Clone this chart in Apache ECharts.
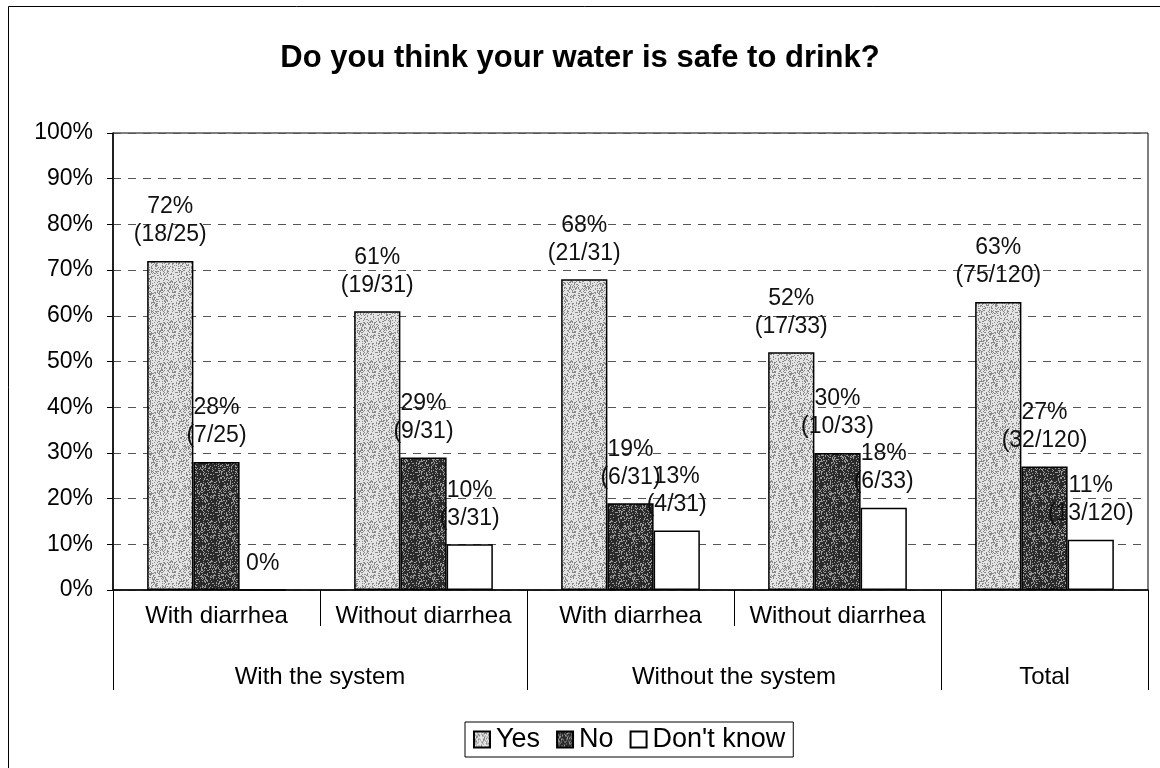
<!DOCTYPE html>
<html>
<head>
<meta charset="utf-8">
<script src="https://cdn.jsdelivr.net/npm/echarts@6/dist/echarts.min.js"></script>
<style>
  html, body { margin: 0; padding: 0; background: #fff; }
  #chart { width: 1160px; height: 768px; }
</style>
</head>
<body>
<div id="chart"></div>
<script>
const categories = ["With diarrhea", "Without diarrhea", "With diarrhea", "Without diarrhea", ""];
const groups = ["With the system", "Without the system", "Total"];
const groupSizes = [2, 2, 1];
const yTicks = [0, 10, 20, 30, 40, 50, 60, 70, 80, 90, 100];

const yesPct = [72, 61, 68, 52, 63];
const noPct = [28, 29, 19, 30, 27];
const dkPct = [0, 10, 13, 18, 11];
const yesCount = [18, 19, 21, 17, 75];
const noCount = [7, 9, 6, 10, 32];
const dkCount = [0, 3, 4, 6, 13];
const sampleSize = [25, 31, 31, 33, 120];

const font = "'Liberation Sans', Arial, sans-serif";

// group boundaries and centers on the 0..5 helper axis
const bounds = [0];
const centers = [];
groupSizes.forEach((n) => {
  const start = bounds[bounds.length - 1];
  centers.push(start + n / 2);
  bounds.push(start + n);
});

// speckled fill like the scanned print (fixed hash, not data)
function speckle(light, dark, share) {
  const c = document.createElement("canvas");
  c.width = c.height = 40;
  const ctx = c.getContext("2d");
  ctx.fillStyle = light;
  ctx.fillRect(0, 0, 40, 40);
  ctx.fillStyle = dark;
  let s = 12345;
  for (let y = 0; y < 40; y++) {
    for (let x = 0; x < 40; x++) {
      s = (s * 1103515245 + 12345) & 0x7fffffff;
      if ((s >> 8) % 1000 < share * 1000) ctx.fillRect(x, y, 1, 1);
    }
  }
  return { image: c, repeat: "repeat" };
}

function makeLabel(pct, count) {
  return (i) => (count[i] > 0 ? pct[i] + "%\n(" + count[i] + "/" + sampleSize[i] + ")" : pct[i] + "%");
}

function barSeries(name, pct, count, color) {
  const fmt = makeLabel(pct, count);
  return {
    name: name,
    type: "bar",
    data: pct,
    barGap: "0%",
    barCategoryGap: "33%",
    itemStyle: { color: color, borderColor: "#000", borderWidth: 1.5 },
    label: {
      show: true,
      position: "top",
      distance: 12,
      color: "#111",
      fontFamily: font,
      fontSize: 23,
      lineHeight: 28,
      formatter: (p) => fmt(p.dataIndex),
    },
  };
}

const chart = echarts.init(document.getElementById("chart"));
chart.setOption({
  animation: false,
  backgroundColor: "#fff",
  title: {
    text: "Do you think your water is safe to drink?",
    left: "center",
    top: 38,
    textStyle: { fontFamily: font, fontSize: 31, fontWeight: "bold", color: "#000" },
  },
  graphic: [
    {
      type: "rect",
      shape: { x: 8.5, y: 6.5, width: 1170, height: 800 },
      style: { fill: "none", stroke: "#000", lineWidth: 1 },
      silent: true,
    },
  ],
  legend: {
    left: 465,
    top: 722,
    padding: [4, 8],
    itemWidth: 16,
    itemHeight: 16,
    itemGap: 16,
    icon: "rect",
    borderColor: "#000",
    borderWidth: 1,
    textStyle: { fontFamily: font, fontSize: 27, color: "#000", padding: [0, 0, 0, 1] },
    data: ["Yes", "No", "Don't know"],
  },
  grid: {
    left: 113,
    right: 12,
    top: 133,
    bottom: 178,
    show: true,
    borderColor: "#000",
    borderWidth: 1,
    containLabel: false,
  },
  xAxis: [
    {
      type: "category",
      data: categories,
      position: "bottom",
      axisLine: { lineStyle: { color: "#000", width: 1.5 } },
      axisTick: { show: true, interval: 0, length: 36, lineStyle: { color: "#000" } },
      axisLabel: { interval: 0, margin: 14, color: "#000", fontFamily: font, fontSize: 24 },
    },
    {
      type: "value",
      min: 0,
      max: 5,
      position: "bottom",
      axisLine: { show: false },
      splitLine: { show: false },
      axisTick: { show: true, customValues: bounds, length: 100, lineStyle: { color: "#000" } },
      axisLabel: {
        customValues: centers,
        margin: 75,
        color: "#000",
        fontFamily: font,
        fontSize: 24,
        formatter: (v) => groups[centers.indexOf(v)],
      },
    },
  ],
  yAxis: {
    type: "value",
    min: 0,
    max: 100,
    interval: 10,
    axisLine: { show: true, lineStyle: { color: "#000", width: 1.5 } },
    axisTick: { show: true, length: 6, lineStyle: { color: "#000" } },
    axisLabel: {
      margin: 20,
      color: "#000",
      fontFamily: font,
      fontSize: 23,
      formatter: (v) => (yTicks.includes(v) ? v + "%" : ""),
    },
    splitLine: { show: true, lineStyle: { color: "#555", type: [8, 7], width: 1 } },
  },
  series: [
    barSeries("Yes", yesPct, yesCount, speckle("#e4e4e4", "#8a8a8a", 0.3)),
    barSeries("No", noPct, noCount, speckle("#2a2a2a", "#9a9a9a", 0.25)),
    barSeries("Don't know", dkPct, dkCount, "#ffffff"),
  ],
});
</script>
</body>
</html>
